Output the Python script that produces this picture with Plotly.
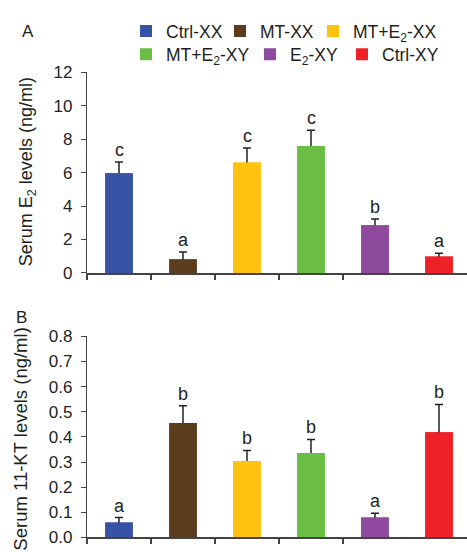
import plotly.graph_objects as go

groups = ["Ctrl-XX", "MT-XX", "MT+E<sub>2</sub>-XX", "MT+E<sub>2</sub>-XY", "E<sub>2</sub>-XY", "Ctrl-XY"]
colors = ["#3953A4", "#5B3D1E", "#FFC20E", "#6ABD45", "#8E4A9C", "#EE2127"]

e2_mean = [5.97, 0.81, 6.61, 7.59, 2.85, 0.98]
e2_err = [0.67, 0.44, 0.86, 0.95, 0.37, 0.20]
e2_sig = ["c", "a", "c", "c", "b", "a"]

kt_mean = [0.060, 0.455, 0.304, 0.336, 0.079, 0.418]
kt_err = [0.019, 0.069, 0.042, 0.054, 0.017, 0.111]
kt_sig = ["a", "b", "b", "b", "a", "b"]

W, H = 467, 552
ML = 87
PW = W - ML
FONT = "Liberation Sans, Arial, Helvetica, sans-serif"
TXT = "#231f20"
AX = "#444444"
BARW = 0.43

def px_x(p):
    return (p - ML) / PW

def px_y(p):
    return (H - p) / H

fig = go.Figure()
xs = list(range(len(groups)))
legend_names = ["legend", "legend2", "legend3", "legend4", "legend5", "legend6"]

# error bars first (drawn underneath), then bars on top hide the lower half
for means, errs, xa, ya in [(e2_mean, e2_err, "x", "y"), (kt_mean, kt_err, "x2", "y2")]:
    for i in xs:
        fig.add_trace(go.Bar(
            x=[xs[i]], y=[means[i]], width=BARW, showlegend=False, hoverinfo="skip",
            marker=dict(color=colors[i], line=dict(width=0)),
            error_y=dict(type="data", array=[errs[i]], symmetric=True,
                         color="#222222", thickness=1.5, width=4),
            xaxis=xa, yaxis=ya,
        ))

for i in xs:
    fig.add_trace(go.Bar(
        x=[xs[i]], y=[e2_mean[i]], name=groups[i], width=BARW,
        marker=dict(color=colors[i], line=dict(width=0)),
        xaxis="x", yaxis="y", legend=legend_names[i], showlegend=True,
    ))
    fig.add_trace(go.Bar(
        x=[xs[i]], y=[kt_mean[i]], name=groups[i], width=BARW,
        marker=dict(color=colors[i], line=dict(width=0)),
        xaxis="x2", yaxis="y2", showlegend=False,
    ))

annotations = []
for i in xs:
    annotations.append(dict(x=xs[i], y=e2_mean[i] + e2_err[i], xref="x", yref="y",
                            text=e2_sig[i], showarrow=False, yanchor="bottom", yshift=0,
                            font=dict(size=18, color=TXT, family=FONT)))
    annotations.append(dict(x=xs[i], y=kt_mean[i] + kt_err[i], xref="x2", yref="y2",
                            text=kt_sig[i], showarrow=False, yanchor="bottom", yshift=0,
                            font=dict(size=18, color=TXT, family=FONT)))

annotations += [
    dict(x=px_x(28), y=px_y(23), xref="paper", yref="paper", text="A", showarrow=False,
         xanchor="center", yanchor="middle", font=dict(size=17, color=TXT, family=FONT)),
    dict(x=px_x(21), y=px_y(319), xref="paper", yref="paper", text="B", showarrow=False,
         xanchor="center", yanchor="middle", font=dict(size=17, color=TXT, family=FONT)),
    dict(x=px_x(27), y=px_y(169), xref="paper", yref="paper",
         text="Serum E<sub>2</sub> levels (ng/ml)", showarrow=False, textangle=-90,
         xanchor="center", yanchor="middle", font=dict(size=18, color=TXT, family=FONT)),
    dict(x=px_x(21), y=px_y(446), xref="paper", yref="paper",
         text="Serum 11-KT levels (ng/ml)", showarrow=False, textangle=-90,
         xanchor="center", yanchor="middle", font=dict(size=18.5, color=TXT, family=FONT)),
]

xticks = [v - 0.5 for v in xs[:-1]]
xcommon = dict(range=[-0.5, 5.4375], tickvals=xticks, ticks="outside", ticklen=5,
               tickwidth=1.5, tickcolor=AX, showticklabels=False, showline=True,
               linecolor=AX, linewidth=2, showgrid=False, zeroline=False, domain=[0, 1])
ycommon = dict(ticks="outside", ticklen=5, tickwidth=1.2, tickcolor=AX, showline=True,
               linecolor=AX, linewidth=1.2, showgrid=False, zeroline=False,
               tickfont=dict(size=17, color=TXT, family=FONT), ticklabelstandoff=5)

legend_pos = [(146, 23), (240, 23), (333, 23), (146, 47), (270, 47), (362, 47)]
legends = {}
for name, (lx, ly) in zip(legend_names, legend_pos):
    legends[name] = dict(x=px_x(lx - 20), y=px_y(ly), xanchor="left", yanchor="middle",
                         orientation="h", bgcolor="rgba(0,0,0,0)", borderwidth=0,
                         font=dict(size=17.5, color=TXT, family=FONT))

fig.update_layout(
    width=W, height=H,
    margin=dict(l=ML, r=0, t=0, b=0),
    paper_bgcolor="white", plot_bgcolor="white",
    barmode="overlay",
    font=dict(family=FONT, color=TXT),
    xaxis=dict(anchor="y", **xcommon),
    xaxis2=dict(anchor="y2", **xcommon),
    yaxis=dict(anchor="x", domain=[px_y(273.3), px_y(65.7)], range=[0, 12], dtick=2,
               **ycommon),
    yaxis2=dict(anchor="x2", domain=[px_y(547.3), px_y(339)], range=[0, 0.8], dtick=0.1,
                tickformat=".1f", **ycommon),
    annotations=annotations,
    **legends,
)

fig.write_html("out.html")
